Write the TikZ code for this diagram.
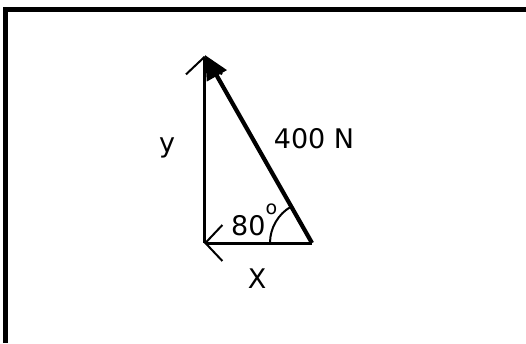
\documentclass[tikz,border=0pt]{standalone}
\usepackage{fontspec}
\setmainfont{DejaVu Sans}
\usetikzlibrary{arrows.meta,angles}

\begin{document}
\begin{tikzpicture}[
    x=1pt,
    y=1pt,
    frame/.style={line width=5pt, line join=miter},
    axis/.style={-{Straight Barb[length=17pt, width=36pt, line width=2pt]}, line width=3pt},
    force/.style={-{Triangle[length=24pt, width=22pt]}, line width=4.2pt},
    lbl/.style={font=\fontsize{27}{30}\selectfont, inner sep=0pt, anchor=base}
]
\useasboundingbox (0,0) rectangle (526,343);
\draw[frame] (5.5,0) -- (5.5,333.5) -- (526,333.5);

\coordinate (O) at (204,100);
\coordinate (Y) at (204,287);
\coordinate (B) at (312,100);
\coordinate (H) at (205,288);

\draw[axis] (O) -- (Y);
\draw[axis] (B) -- (O);
\draw[force] (B) -- (H);
\pic[draw, line width=2pt, angle radius=42pt] {angle=H--B--O};

\node[lbl] (ylab) at (167,191) {y};
\node[lbl] (xlab) at (257,55) {X};
\node[lbl] (flab) at (314,195) {400 N};
\node[lbl, anchor=base west] (alab) at (231,108) {80\raisebox{21pt}{\fontsize{19}{19}\selectfont o}};
\end{tikzpicture}
\end{document}
